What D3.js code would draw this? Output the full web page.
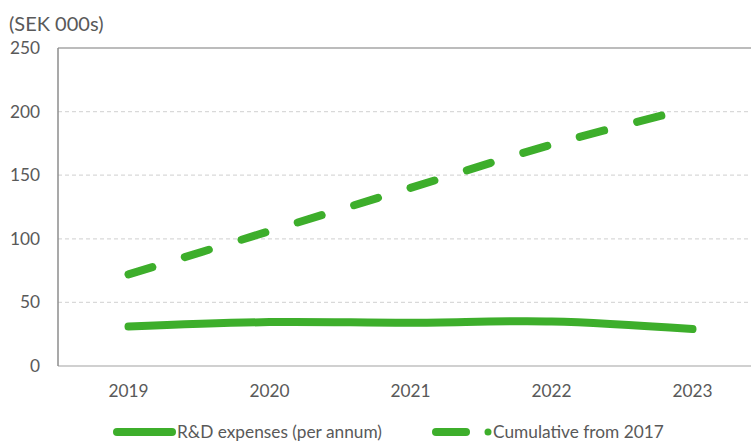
<!DOCTYPE html>
<html>
<head>
<meta charset="utf-8">
<script src="https://cdn.jsdelivr.net/npm/d3@7/dist/d3.min.js"></script>
<style>
  body { margin: 0; background: #fff; }
  text { font-family: Lato, "Open Sans", sans-serif; fill: #595959; }
</style>
</head>
<body>
<div id="chart"></div>
<script>
  const years = ["2019", "2020", "2021", "2022", "2023"];
  const rdExpenses = [31, 34.5, 34, 35, 29];
  const cumulative = [72, 106, 140, 174, 203];
  const yTicks = [0, 50, 100, 150, 200, 250];
  const unitLabel = "(SEK 000s)";
  const seriesNames = ["R&D expenses (per annum)", "Cumulative from 2017"];

  const width = 751, height = 441;
  const green = "#3dae2b";
  const margin = { left: 58, top: 48, bottom: 75 };
  const fontSize = "17.3px";

  const svg = d3.select("#chart").append("svg")
    .attr("width", width)
    .attr("height", height);

  const x = d3.scaleBand()
    .domain(years)
    .range([margin.left, margin.left + 141 * years.length]);

  const y = d3.scaleLinear()
    .domain([0, 250])
    .range([height - margin.bottom, margin.top]);

  // gridlines
  svg.append("g")
    .selectAll("line")
    .data(yTicks.filter(d => d > 0 && d < 250))
    .enter().append("line")
    .attr("x1", margin.left)
    .attr("x2", width)
    .attr("y1", d => y(d))
    .attr("y2", d => y(d))
    .attr("stroke", "#d9d9d9")
    .attr("stroke-width", 1.3)
    .attr("stroke-dasharray", "4,3");

  // top border
  svg.append("line")
    .attr("x1", margin.left).attr("x2", width)
    .attr("y1", y(250)).attr("y2", y(250))
    .attr("stroke", "#a6a6a6").attr("stroke-width", 1.3);

  // bottom axis line
  svg.append("line")
    .attr("x1", margin.left).attr("x2", width)
    .attr("y1", y(0)).attr("y2", y(0))
    .attr("stroke", "#d0d0d0").attr("stroke-width", 2);

  // left axis line
  svg.append("line")
    .attr("x1", margin.left).attr("x2", margin.left)
    .attr("y1", y(250)).attr("y2", y(0))
    .attr("stroke", "#8c8c8c").attr("stroke-width", 1.5);

  // y tick labels
  svg.append("g")
    .selectAll("text")
    .data(yTicks)
    .enter().append("text")
    .attr("x", 40)
    .attr("y", d => y(d) + 6)
    .attr("text-anchor", "end")
    .style("font-size", fontSize)
    .text(d => d);

  // x tick labels
  svg.append("g")
    .selectAll("text")
    .data(years)
    .enter().append("text")
    .attr("x", d => x(d) + x.bandwidth() / 2)
    .attr("y", 397)
    .attr("text-anchor", "middle")
    .style("font-size", fontSize)
    .text(d => d);

  svg.append("text")
    .attr("x", 9)
    .attr("y", 31)
    .style("font-size", "20px")
    .text(unitLabel);

  const line = d3.line()
    .x((d, i) => x(years[i]) + x.bandwidth() / 2)
    .y(d => y(d))
    .curve(d3.curveCardinal.tension(0));

  svg.append("path")
    .datum(rdExpenses)
    .attr("d", line)
    .attr("fill", "none")
    .attr("stroke", green)
    .attr("stroke-width", 8)
    .attr("stroke-linecap", "round");

  svg.append("path")
    .datum(cumulative)
    .attr("d", line)
    .attr("fill", "none")
    .attr("stroke", green)
    .attr("stroke-width", 8)
    .attr("stroke-linecap", "round")
    .attr("stroke-dasharray", "25,34");

  // legend
  const legendY = 432;
  svg.append("line")
    .attr("x1", 117).attr("x2", 172)
    .attr("y1", legendY).attr("y2", legendY)
    .attr("stroke", green).attr("stroke-width", 8)
    .attr("stroke-linecap", "round");
  svg.append("text")
    .attr("x", 177).attr("y", 438)
    .style("font-size", fontSize)
    .text(seriesNames[0]);

  svg.append("line")
    .attr("x1", 436).attr("x2", 466)
    .attr("y1", legendY).attr("y2", legendY)
    .attr("stroke", green).attr("stroke-width", 8)
    .attr("stroke-linecap", "round");
  svg.append("circle")
    .attr("cx", 488).attr("cy", legendY)
    .attr("r", 3.5)
    .attr("fill", green);
  svg.append("text")
    .attr("x", 493).attr("y", 438)
    .style("font-size", fontSize)
    .text(seriesNames[1]);
</script>
</body>
</html>
